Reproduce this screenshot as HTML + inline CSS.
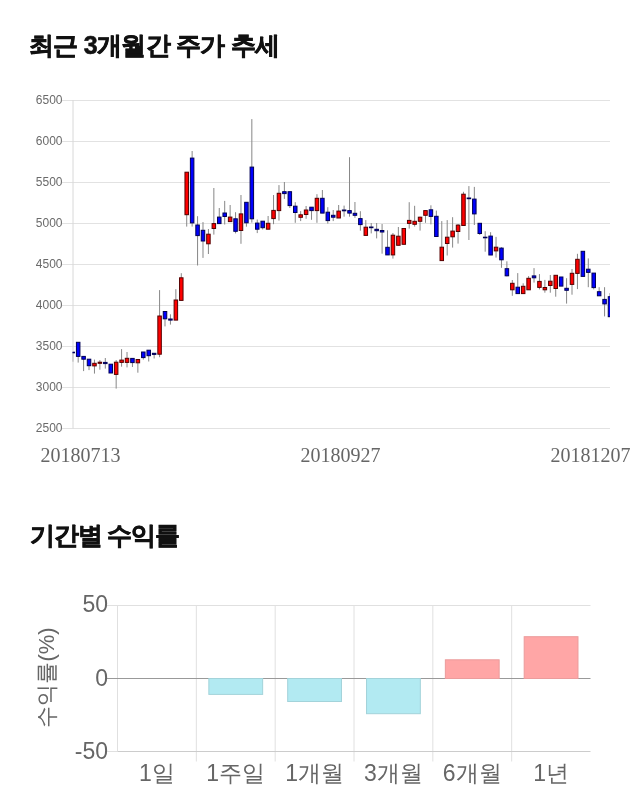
<!DOCTYPE html>
<html><head><meta charset="utf-8"><title>chart</title>
<style>
html,body{margin:0;padding:0;background:#fff;}
body{width:640px;height:810px;position:relative;overflow:hidden;font-family:"Liberation Sans",sans-serif;}
h2{position:absolute;left:30px;margin:0;font-size:25px;font-weight:bold;color:#111;letter-spacing:-0.7px;-webkit-text-stroke:0.6px #111;white-space:nowrap;line-height:1;}
#t1{top:33px;left:29px;}
#t2{top:523px;letter-spacing:-1.2px;}
svg{position:absolute;left:0;top:0;will-change:transform;}
h2{will-change:transform;}
.grid line{stroke:#e2e2e2;stroke-width:1;}
.wick line{stroke:#878787;stroke-width:1;}
.body rect.r{fill:#f00;stroke:#500;stroke-width:1;}
.body rect.b{fill:#00f;stroke:#005;stroke-width:1;}
.yl text{font-family:"Liberation Sans",sans-serif;font-size:12px;fill:#6a6a6a;text-anchor:end;}
.xl text{font-family:"Liberation Serif",serif;font-size:20px;fill:#666;}
.bg line{stroke:#e0e0e0;stroke-width:1;}
.bars rect.n{fill:#b2eaf2;stroke:#a3d3da;stroke-width:1;}
.bars rect.p{fill:#ffa6a6;stroke:#eb9c9c;stroke-width:1;}
.bl text{font-family:"Liberation Sans",sans-serif;font-size:23px;fill:#666;}
</style></head>
<body>
<h2 id="t1">최근 3개월간 주가 추세</h2>
<svg width="640" height="810" viewBox="0 0 640 810">
<defs><clipPath id="pc"><rect x="72.6" y="90" width="537.4" height="340"/></clipPath></defs>
<g class="grid"><line x1="62" y1="100.5" x2="610" y2="100.5"/><line x1="62" y1="141.5" x2="610" y2="141.5"/><line x1="62" y1="182.5" x2="610" y2="182.5"/><line x1="62" y1="223.5" x2="610" y2="223.5"/><line x1="62" y1="264.5" x2="610" y2="264.5"/><line x1="62" y1="305.5" x2="610" y2="305.5"/><line x1="62" y1="346.5" x2="610" y2="346.5"/><line x1="62" y1="387.5" x2="610" y2="387.5"/><line x1="62" y1="428.5" x2="610" y2="428.5"/><line x1="73" y1="100" x2="73" y2="428.5" style="stroke:#d8d8d8"/></g>
<g class="yl"><text x="62.5" y="103.7">6500</text><text x="62.5" y="144.7">6000</text><text x="62.5" y="185.7">5500</text><text x="62.5" y="226.7">5000</text><text x="62.5" y="267.7">4500</text><text x="62.5" y="308.7">4000</text><text x="62.5" y="349.7">3500</text><text x="62.5" y="390.7">3000</text><text x="62.5" y="431.7">2500</text></g>
<g clip-path="url(#pc)">
<g class="wick"><line x1="72.75" y1="352.2" x2="72.75" y2="361.7"/><line x1="78.18" y1="342.3" x2="78.18" y2="362.6"/><line x1="83.60" y1="356.4" x2="83.60" y2="371.1"/><line x1="89.03" y1="359.2" x2="89.03" y2="370.1"/><line x1="94.46" y1="359.6" x2="94.46" y2="373.6"/><line x1="99.88" y1="360.1" x2="99.88" y2="369.7"/><line x1="105.31" y1="358.0" x2="105.31" y2="368.6"/><line x1="110.74" y1="364.2" x2="110.74" y2="373.0"/><line x1="116.16" y1="360.1" x2="116.16" y2="388.6"/><line x1="121.59" y1="349.1" x2="121.59" y2="366.7"/><line x1="127.02" y1="352.0" x2="127.02" y2="367.4"/><line x1="132.44" y1="358.4" x2="132.44" y2="367.0"/><line x1="137.87" y1="359.5" x2="137.87" y2="372.7"/><line x1="143.30" y1="352.0" x2="143.30" y2="359.6"/><line x1="148.72" y1="350.2" x2="148.72" y2="361.5"/><line x1="154.15" y1="353.3" x2="154.15" y2="358.5"/><line x1="159.58" y1="290.1" x2="159.58" y2="357.2"/><line x1="165.01" y1="311.5" x2="165.01" y2="326.4"/><line x1="170.43" y1="314.3" x2="170.43" y2="324.6"/><line x1="175.86" y1="289.2" x2="175.86" y2="320.1"/><line x1="181.29" y1="273.2" x2="181.29" y2="300.4"/><line x1="186.71" y1="172.2" x2="186.71" y2="226.6"/><line x1="192.14" y1="151.0" x2="192.14" y2="226.6"/><line x1="197.57" y1="216.2" x2="197.57" y2="265.5"/><line x1="202.99" y1="222.1" x2="202.99" y2="257.9"/><line x1="208.42" y1="229.0" x2="208.42" y2="254.0"/><line x1="213.85" y1="188.0" x2="213.85" y2="234.6"/><line x1="219.27" y1="208.0" x2="219.27" y2="224.0"/><line x1="224.70" y1="200.9" x2="224.70" y2="224.5"/><line x1="230.13" y1="205.0" x2="230.13" y2="221.6"/><line x1="235.55" y1="212.2" x2="235.55" y2="233.4"/><line x1="240.98" y1="195.0" x2="240.98" y2="243.8"/><line x1="246.41" y1="202.3" x2="246.41" y2="226.7"/><line x1="251.83" y1="119.1" x2="251.83" y2="222.6"/><line x1="257.26" y1="219.5" x2="257.26" y2="233.1"/><line x1="262.69" y1="221.2" x2="262.69" y2="229.5"/><line x1="268.11" y1="216.0" x2="268.11" y2="229.2"/><line x1="273.54" y1="195.0" x2="273.54" y2="224.2"/><line x1="278.97" y1="185.1" x2="278.97" y2="220.6"/><line x1="284.39" y1="182.0" x2="284.39" y2="198.9"/><line x1="289.82" y1="191.7" x2="289.82" y2="208.0"/><line x1="295.25" y1="202.2" x2="295.25" y2="222.8"/><line x1="300.67" y1="211.1" x2="300.67" y2="221.1"/><line x1="306.10" y1="206.0" x2="306.10" y2="218.8"/><line x1="311.53" y1="207.2" x2="311.53" y2="219.8"/><line x1="316.95" y1="194.2" x2="316.95" y2="222.8"/><line x1="322.38" y1="190.0" x2="322.38" y2="213.1"/><line x1="327.81" y1="207.2" x2="327.81" y2="223.6"/><line x1="333.23" y1="210.0" x2="333.23" y2="221.1"/><line x1="338.66" y1="205.0" x2="338.66" y2="218.0"/><line x1="344.09" y1="205.6" x2="344.09" y2="216.7"/><line x1="349.52" y1="157.2" x2="349.52" y2="216.7"/><line x1="354.94" y1="202.0" x2="354.94" y2="217.8"/><line x1="360.37" y1="211.2" x2="360.37" y2="230.7"/><line x1="365.80" y1="220.1" x2="365.80" y2="235.4"/><line x1="371.22" y1="223.0" x2="371.22" y2="233.4"/><line x1="376.65" y1="223.0" x2="376.65" y2="238.4"/><line x1="382.08" y1="224.0" x2="382.08" y2="253.7"/><line x1="387.50" y1="230.3" x2="387.50" y2="254.9"/><line x1="392.93" y1="233.0" x2="392.93" y2="258.6"/><line x1="398.36" y1="227.0" x2="398.36" y2="245.3"/><line x1="403.78" y1="228.5" x2="403.78" y2="244.3"/><line x1="409.21" y1="202.2" x2="409.21" y2="228.6"/><line x1="414.64" y1="205.8" x2="414.64" y2="226.6"/><line x1="420.06" y1="216.7" x2="420.06" y2="230.6"/><line x1="425.49" y1="210.6" x2="425.49" y2="222.8"/><line x1="430.92" y1="205.3" x2="430.92" y2="224.4"/><line x1="436.34" y1="210.6" x2="436.34" y2="236.5"/><line x1="441.77" y1="221.1" x2="441.77" y2="260.6"/><line x1="447.20" y1="220.1" x2="447.20" y2="255.5"/><line x1="452.62" y1="217.2" x2="452.62" y2="247.6"/><line x1="458.05" y1="224.0" x2="458.05" y2="243.6"/><line x1="463.48" y1="191.8" x2="463.48" y2="225.5"/><line x1="468.90" y1="186.1" x2="468.90" y2="240.0"/><line x1="474.33" y1="186.9" x2="474.33" y2="225.0"/><line x1="479.76" y1="223.3" x2="479.76" y2="235.0"/><line x1="485.18" y1="231.2" x2="485.18" y2="251.7"/><line x1="490.61" y1="232.2" x2="490.61" y2="255.0"/><line x1="496.04" y1="236.9" x2="496.04" y2="257.6"/><line x1="501.46" y1="247.2" x2="501.46" y2="267.8"/><line x1="506.89" y1="261.3" x2="506.89" y2="276.4"/><line x1="512.32" y1="280.0" x2="512.32" y2="295.8"/><line x1="517.74" y1="273.1" x2="517.74" y2="293.6"/><line x1="523.17" y1="283.3" x2="523.17" y2="293.6"/><line x1="528.60" y1="276.1" x2="528.60" y2="289.8"/><line x1="534.03" y1="268.1" x2="534.03" y2="282.6"/><line x1="539.45" y1="274.1" x2="539.45" y2="289.4"/><line x1="544.88" y1="279.9" x2="544.88" y2="292.7"/><line x1="550.31" y1="275.0" x2="550.31" y2="292.7"/><line x1="555.73" y1="275.3" x2="555.73" y2="296.7"/><line x1="561.16" y1="277.0" x2="561.16" y2="286.1"/><line x1="566.59" y1="278.2" x2="566.59" y2="303.6"/><line x1="572.01" y1="269.0" x2="572.01" y2="294.7"/><line x1="577.44" y1="253.8" x2="577.44" y2="289.1"/><line x1="582.87" y1="251.3" x2="582.87" y2="276.4"/><line x1="588.29" y1="258.4" x2="588.29" y2="287.2"/><line x1="593.72" y1="273.1" x2="593.72" y2="289.4"/><line x1="599.15" y1="287.2" x2="599.15" y2="295.8"/><line x1="604.57" y1="287.2" x2="604.57" y2="316.4"/><line x1="610.00" y1="293.1" x2="610.00" y2="316.7"/></g>
<g class="body"><rect class="b" x="71.00" y="352.2" width="3.5" height="0.6"/><rect class="b" x="76.43" y="342.3" width="3.5" height="14.1"/><rect class="b" x="81.85" y="356.4" width="3.5" height="2.8"/><rect class="b" x="87.28" y="359.2" width="3.5" height="6.5"/><rect class="r" x="92.71" y="363.3" width="3.5" height="2.6"/><rect class="r" x="98.13" y="362.2" width="3.5" height="1.1"/><rect class="b" x="103.56" y="362.4" width="3.5" height="1.2"/><rect class="b" x="108.99" y="364.2" width="3.5" height="8.8"/><rect class="r" x="114.41" y="362.2" width="3.5" height="12.2"/><rect class="r" x="119.84" y="360.1" width="3.5" height="2.3"/><rect class="r" x="125.27" y="358.3" width="3.5" height="4.1"/><rect class="b" x="130.69" y="358.4" width="3.5" height="4.2"/><rect class="r" x="136.12" y="359.5" width="3.5" height="3.3"/><rect class="b" x="141.55" y="352.0" width="3.5" height="5.6"/><rect class="b" x="146.97" y="350.2" width="3.5" height="5.5"/><rect class="b" x="152.40" y="353.3" width="3.5" height="1.1"/><rect class="r" x="157.83" y="316.0" width="3.5" height="38.2"/><rect class="b" x="163.26" y="311.5" width="3.5" height="7.3"/><rect class="b" x="168.68" y="319.0" width="3.5" height="1.1"/><rect class="r" x="174.11" y="300.0" width="3.5" height="20.1"/><rect class="r" x="179.54" y="277.8" width="3.5" height="22.6"/><rect class="r" x="184.96" y="172.2" width="3.5" height="42.5"/><rect class="b" x="190.39" y="158.1" width="3.5" height="64.8"/><rect class="b" x="195.82" y="225.0" width="3.5" height="10.6"/><rect class="b" x="201.24" y="230.3" width="3.5" height="10.7"/><rect class="r" x="206.67" y="234.2" width="3.5" height="9.6"/><rect class="r" x="212.10" y="223.6" width="3.5" height="4.9"/><rect class="b" x="217.52" y="217.1" width="3.5" height="6.5"/><rect class="b" x="222.95" y="213.0" width="3.5" height="3.5"/><rect class="r" x="228.38" y="217.1" width="3.5" height="4.5"/><rect class="b" x="233.80" y="218.8" width="3.5" height="12.5"/><rect class="r" x="239.23" y="213.9" width="3.5" height="16.6"/><rect class="b" x="244.66" y="202.3" width="3.5" height="20.5"/><rect class="b" x="250.08" y="167.1" width="3.5" height="51.7"/><rect class="b" x="255.51" y="223.1" width="3.5" height="6.1"/><rect class="b" x="260.94" y="221.2" width="3.5" height="6.5"/><rect class="r" x="266.36" y="223.3" width="3.5" height="5.9"/><rect class="r" x="271.79" y="210.4" width="3.5" height="8.2"/><rect class="r" x="277.22" y="193.3" width="3.5" height="17.3"/><rect class="b" x="282.64" y="191.7" width="3.5" height="1.9"/><rect class="b" x="288.07" y="191.7" width="3.5" height="13.9"/><rect class="b" x="293.50" y="206.2" width="3.5" height="6.3"/><rect class="r" x="298.92" y="214.8" width="3.5" height="2.5"/><rect class="r" x="304.35" y="210.0" width="3.5" height="4.5"/><rect class="b" x="309.78" y="207.2" width="3.5" height="3.4"/><rect class="r" x="315.20" y="198.3" width="3.5" height="12.3"/><rect class="b" x="320.63" y="198.3" width="3.5" height="14.8"/><rect class="b" x="326.06" y="212.2" width="3.5" height="8.4"/><rect class="b" x="331.48" y="215.3" width="3.5" height="1.9"/><rect class="r" x="336.91" y="211.1" width="3.5" height="6.9"/><rect class="b" x="342.34" y="210.0" width="3.5" height="0.8"/><rect class="b" x="347.77" y="210.6" width="3.5" height="2.5"/><rect class="b" x="353.19" y="213.3" width="3.5" height="2.0"/><rect class="b" x="358.62" y="218.6" width="3.5" height="6.0"/><rect class="r" x="364.05" y="227.2" width="3.5" height="8.2"/><rect class="b" x="369.47" y="227.0" width="3.5" height="0.7"/><rect class="b" x="374.90" y="229.3" width="3.5" height="1.4"/><rect class="b" x="380.33" y="230.5" width="3.5" height="1.5"/><rect class="b" x="385.75" y="247.3" width="3.5" height="7.6"/><rect class="r" x="391.18" y="235.2" width="3.5" height="19.7"/><rect class="r" x="396.61" y="236.2" width="3.5" height="9.1"/><rect class="r" x="402.03" y="228.5" width="3.5" height="15.8"/><rect class="r" x="407.46" y="220.4" width="3.5" height="3.0"/><rect class="r" x="412.89" y="221.3" width="3.5" height="3.0"/><rect class="r" x="418.31" y="217.2" width="3.5" height="4.1"/><rect class="r" x="423.74" y="210.6" width="3.5" height="4.7"/><rect class="b" x="429.17" y="209.8" width="3.5" height="6.6"/><rect class="b" x="434.59" y="216.3" width="3.5" height="20.2"/><rect class="r" x="440.02" y="247.2" width="3.5" height="13.4"/><rect class="r" x="445.45" y="237.2" width="3.5" height="6.3"/><rect class="r" x="450.87" y="231.1" width="3.5" height="5.7"/><rect class="r" x="456.30" y="225.1" width="3.5" height="6.4"/><rect class="r" x="461.73" y="194.2" width="3.5" height="31.3"/><rect class="b" x="467.15" y="198.0" width="3.5" height="0.7"/><rect class="b" x="472.58" y="199.1" width="3.5" height="14.8"/><rect class="b" x="478.01" y="223.3" width="3.5" height="10.2"/><rect class="b" x="483.43" y="237.2" width="3.5" height="0.6"/><rect class="b" x="488.86" y="236.1" width="3.5" height="18.9"/><rect class="r" x="494.29" y="247.2" width="3.5" height="3.7"/><rect class="b" x="499.71" y="248.1" width="3.5" height="11.7"/><rect class="b" x="505.14" y="268.7" width="3.5" height="7.1"/><rect class="r" x="510.57" y="283.3" width="3.5" height="6.5"/><rect class="b" x="515.99" y="287.2" width="3.5" height="6.4"/><rect class="r" x="521.42" y="286.3" width="3.5" height="7.3"/><rect class="r" x="526.85" y="278.3" width="3.5" height="11.5"/><rect class="b" x="532.28" y="275.9" width="3.5" height="1.9"/><rect class="r" x="537.70" y="281.4" width="3.5" height="6.0"/><rect class="r" x="543.13" y="287.5" width="3.5" height="2.3"/><rect class="r" x="548.56" y="281.2" width="3.5" height="4.3"/><rect class="r" x="553.98" y="275.3" width="3.5" height="13.2"/><rect class="b" x="559.41" y="277.0" width="3.5" height="9.1"/><rect class="b" x="564.84" y="288.3" width="3.5" height="2.0"/><rect class="r" x="570.26" y="273.3" width="3.5" height="11.1"/><rect class="r" x="575.69" y="259.3" width="3.5" height="14.1"/><rect class="b" x="581.12" y="251.3" width="3.5" height="25.1"/><rect class="b" x="586.54" y="269.2" width="3.5" height="3.2"/><rect class="b" x="591.97" y="273.1" width="3.5" height="14.5"/><rect class="b" x="597.40" y="291.7" width="3.5" height="4.1"/><rect class="b" x="602.82" y="299.4" width="3.5" height="4.5"/><rect class="b" x="608.25" y="296.7" width="3.5" height="20.0"/></g>
</g>
<g class="xl"><text x="40.5" y="461.5">20180713</text><text x="300.5" y="461.5">20180927</text><text x="550.5" y="461.5">20181207</text></g>

<g class="bg"><line x1="117.5" y1="605" x2="117.5" y2="751.5"/><line x1="196.33" y1="605" x2="196.33" y2="761.5"/><line x1="275.17" y1="605" x2="275.17" y2="761.5"/><line x1="354.00" y1="605" x2="354.00" y2="761.5"/><line x1="432.83" y1="605" x2="432.83" y2="761.5"/><line x1="511.67" y1="605" x2="511.67" y2="761.5"/><line x1="107" y1="605.5" x2="590.5" y2="605.5"/><line x1="107" y1="751.5" x2="117.5" y2="751.5"/><line x1="117.5" y1="751.5" x2="590.5" y2="751.5" style="stroke:#ccc"/></g>
<line x1="107" y1="678.5" x2="590.5" y2="678.5" stroke="#999" stroke-width="1"/>
<g class="bars"><rect class="n" x="208.85" y="678.5" width="53.8" height="15.9"/><rect class="n" x="287.68" y="678.5" width="53.8" height="23.0"/><rect class="n" x="366.52" y="678.5" width="53.8" height="35.2"/><rect class="p" x="445.35" y="659.8" width="53.8" height="18.7"/><rect class="p" x="524.18" y="636.7" width="53.8" height="41.8"/></g>
<g class="bl" style="text-anchor:end"><text x="108" y="612">50</text><text x="108" y="685.5">0</text><text x="108" y="758.5">-50</text></g>
<g class="bl" style="text-anchor:middle"><text x="156.9" y="781">1일</text><text x="235.7" y="781">1주일</text><text x="314.6" y="781">1개월</text><text x="393.4" y="781">3개월</text><text x="472.2" y="781">6개월</text><text x="551.1" y="781">1년</text></g>
<text class="bl" transform="translate(54.2,677.5) rotate(-90)" text-anchor="middle" style="font-family:'Liberation Sans',sans-serif;font-size:22px;fill:#666">수익률(%)</text>
</svg>
<h2 id="t2">기간별 수익률</h2>
</body></html>
